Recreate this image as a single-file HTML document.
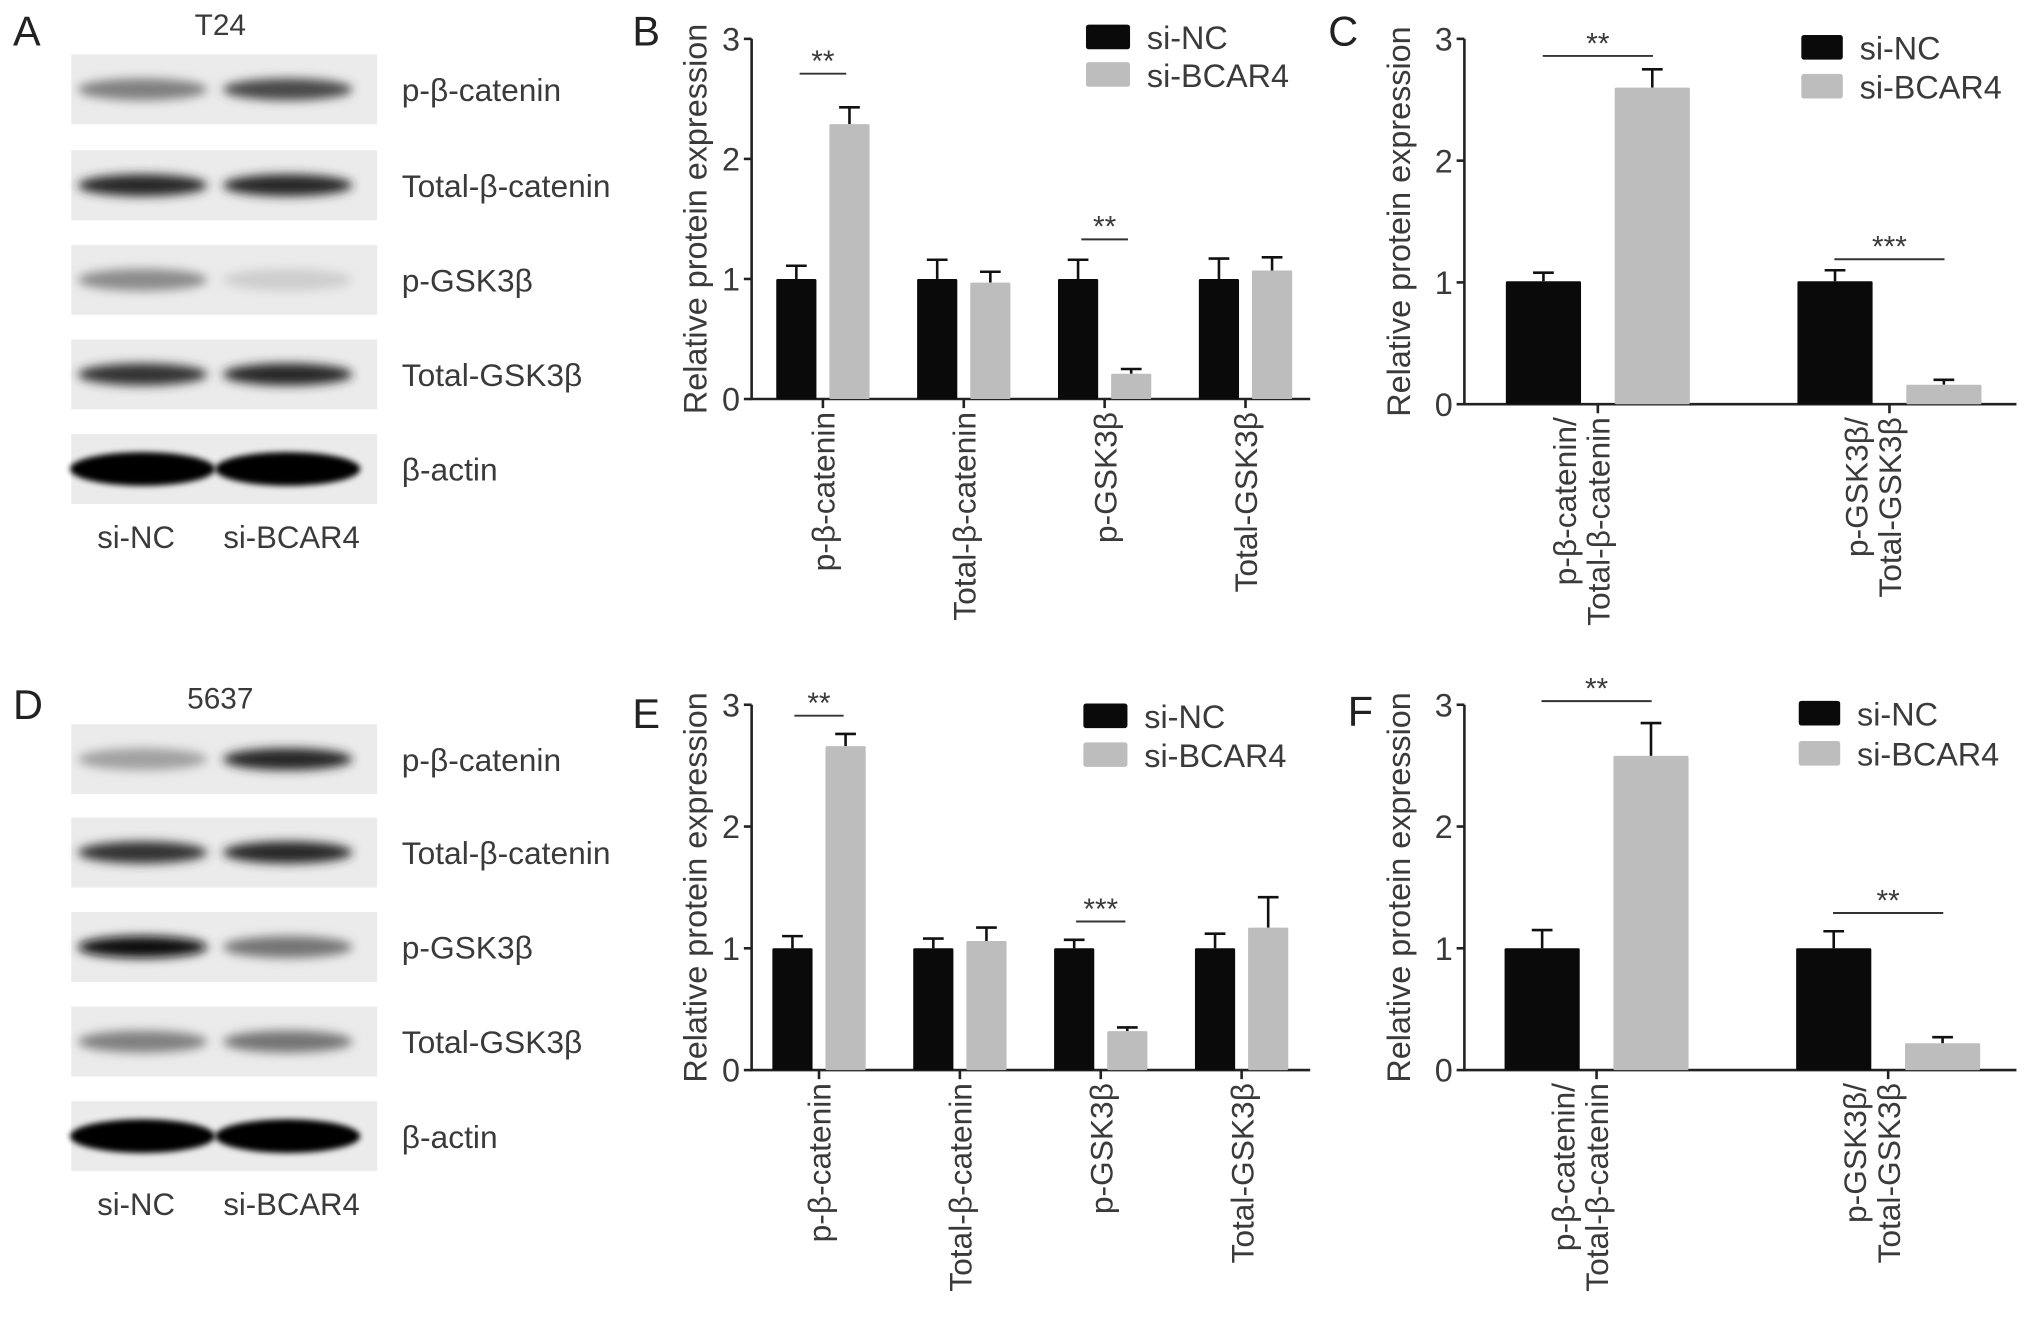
<!DOCTYPE html>
<html><head><meta charset="utf-8"><style>
html,body{margin:0;padding:0;background:#fff;}
svg{display:block;font-family:"Liberation Sans",Arial,sans-serif;}
</style></head><body>
<svg id="fig" width="2032" height="1324" viewBox="0 0 1568 1022" preserveAspectRatio="none" xmlns="http://www.w3.org/2000/svg">
<defs>
<filter id="blur" x="-20%" y="-50%" width="140%" height="200%"><feGaussianBlur stdDeviation="4"/></filter>
<filter id="blur2" x="-20%" y="-50%" width="140%" height="200%"><feGaussianBlur stdDeviation="2.2"/></filter>
</defs>
<g id="blots"></g>
<g id="charts"></g>
</svg>
<script>
// ---- chart data ----
const catsB = ["p-β-catenin","Total-β-catenin","p-GSK3β","Total-GSK3β"];
const ncB = [1,1,1,1];
const ncErrB = [0.11,0.16,0.16,0.17];
const bcB = [2.29,0.97,0.21,1.07];
const bcErrB = [0.14,0.09,0.04,0.11];
const catsC = [["p-β-catenin/","Total-β-catenin"],["p-GSK3β/","Total-GSK3β"]];
const ncC = [1.01,1.01];
const ncErrC = [0.07,0.09];
const bcC = [2.6,0.16];
const bcErrC = [0.15,0.04];
const ncE = [1,1,1,1];
const ncErrE = [0.1,0.08,0.07,0.12];
const bcE = [2.66,1.06,0.32,1.17];
const bcErrE = [0.1,0.11,0.03,0.25];
const ncF = [1,1];
const ncErrF = [0.15,0.14];
const bcF = [2.58,0.22];
const bcErrF = [0.27,0.05];
const yTicks = ["0","1","2","3"];
const sigB = [[0,2.71,"**"],[2,1.33,"**"]];
const sigC = [[0,2.86,"**"],[1,1.19,"***"]];
const sigE = [[0,2.91,"**"],[2,1.22,"***"]];
const sigF = [[0,3.03,"**"],[1,1.29,"**"]];

const NS="http://www.w3.org/2000/svg";
const TXT='#3a3a3a';
function mk(tag, attrs, parent, txt){
  const e=document.createElementNS(NS,tag);
  for(const k in attrs) e.setAttribute(k,attrs[k]);
  if(txt!==undefined) e.textContent=txt;
  parent.appendChild(e); return e;
}
const charts=document.getElementById('charts');
const blots=document.getElementById('blots');

function panel(cfg){
  const g=mk('g',{},charts);
  
  
  const y=v=>cfg.y0-(cfg.y0-cfg.y3)*v/3;
  const cx=i=>cfg.c0+i*cfg.step;
  const ya=mk('line',{x1:cfg.ax,y1:cfg.y3,x2:cfg.ax,y2:cfg.y0,stroke:'#222','stroke-width':2},g);
  
  
  const xa=mk('line',{x1:cfg.ax-1,y1:cfg.y0,x2:cfg.axEnd,y2:cfg.y0,stroke:'#222','stroke-width':2},g);
  
  
  yTicks.forEach((t,i)=>{
    mk('line',{x1:cfg.ax-6,y1:y(+t),x2:cfg.ax,y2:y(+t),stroke:'#222','stroke-width':2},g);
    const tl=mk('text',{x:cfg.ax-9,y:y(+t)+9,'text-anchor':'end','font-size':25,fill:TXT},g,t);
    
    
  });
  const ym=(cfg.y0+cfg.y3)/2;
  const yl=mk('text',{x:cfg.ylx,y:ym,'text-anchor':'middle','font-size':25,fill:TXT,transform:`rotate(-90 ${cfg.ylx} ${ym})`},g,'Relative protein expression');
  
  
  cfg.cats.forEach((c,i)=>{
    const x=cx(i);
    mk('line',{x1:x,y1:cfg.y0,x2:x,y2:cfg.y0+7,stroke:'#222','stroke-width':2},g);
    const series=[[cfg.nc,cfg.ncErr,'#0a0a0a',x-cfg.gap/2-cfg.bw],[cfg.bc,cfg.bcErr,'#bdbdbd',x+cfg.gap/2]];
    series.forEach(([vals,errs,col,bx],s)=>{
      const top=y(vals[i]), et=y(vals[i]+errs[i]), mx=bx+cfg.bw/2;
      mk('line',{x1:mx,y1:top,x2:mx,y2:et,stroke:'#111','stroke-width':2},g);
      mk('line',{x1:mx-8,y1:et,x2:mx+8,y2:et,stroke:'#111','stroke-width':2},g);
      const b=mk('rect',{x:bx,y:top,width:cfg.bw,height:cfg.y0-top,fill:col,rx:1},g);
      
      
    });
    const lines=Array.isArray(c)?c:[c];
    lines.forEach((ln,k)=>{
      const lx=x+9-(lines.length-1-k)*26;
      const t=mk('text',{x:lx,y:cfg.y0+10,'text-anchor':'end','font-size':24.5,fill:TXT,transform:`rotate(-90 ${lx} ${cfg.y0+10})`},g,ln);
      
      
    });
  });
  cfg.sig.forEach(([i,v,s])=>{
    const x=cx(i), yy=y(v);
    mk('line',{x1:x-cfg.sw/2,y1:yy,x2:x+cfg.sw/2,y2:yy,stroke:'#333','stroke-width':1.5},g);
    const st=mk('text',{x:x,y:yy-2,'text-anchor':'middle','font-size':23,fill:TXT},g,s);
    
    
  });
  const L=cfg.leg;
  [['si-NC','#0a0a0a',0],['si-BCAR4','#bdbdbd',1]].forEach(([n,c,k])=>{
    const ry=L.y+k*L.dy;
    const r=mk('rect',{x:L.x,y:ry,width:L.w,height:19,fill:c,rx:2},g);
    
    
    const t=mk('text',{x:L.x+L.w+13,y:ry+19,'font-size':25,fill:TXT},g,n);
    
    
  });
  const pl=mk('text',{x:cfg.lx,y:cfg.ly,'font-size':32,fill:'#222'},g,cfg.letter);
  
  
}

panel({name:'chart-b',letter:'B',lx:488,ly:35,ax:580,axEnd:1011,y0:308,y3:30,c0:635,step:108.7,bw:31,gap:10,sw:36,ylx:545,
  cats:catsB,nc:ncB,ncErr:ncErrB,bc:bcB,bcErr:bcErrB,sig:sigB,leg:{x:838,y:19,dy:29,w:34}});
panel({name:'chart-c',letter:'C',lx:1025,ly:35,ax:1130,axEnd:1556,y0:312,y3:30,c0:1233,step:225,bw:58,gap:26,sw:85,ylx:1088,
  cats:catsC,nc:ncC,ncErr:ncErrC,bc:bcC,bcErr:bcErrC,sig:sigC,leg:{x:1390,y:27,dy:30,w:32}});
panel({name:'chart-e',letter:'E',lx:488,ly:562,ax:580,axEnd:1011,y0:826,y3:544,c0:632,step:108.7,bw:31,gap:10,sw:38,ylx:545,
  cats:catsB,nc:ncE,ncErr:ncErrE,bc:bcE,bcErr:bcErrE,sig:sigE,leg:{x:836,y:543,dy:30,w:34}});
panel({name:'chart-f',letter:'F',lx:1040,ly:560,ax:1130,axEnd:1556,y0:826,y3:544,c0:1232,step:225,bw:58,gap:26,sw:85,ylx:1088,
  cats:catsC,nc:ncF,ncErr:ncErrF,bc:bcF,bcErr:bcErrF,sig:sigF,leg:{x:1388,y:541,dy:31,w:32}});

// ---- blots ----
const blotNames=["p-β-catenin","Total-β-catenin","p-GSK3β","Total-GSK3β","β-actin"];
const blotA=[[0.45,0.7],[0.85,0.85],[0.4,0.1],[0.8,0.85],[1,1]];
const blotD=[[0.3,0.85],[0.8,0.85],[0.95,0.5],[0.45,0.5],[1,1]];
function blotPanel(name,letter,title,y0,ys,inten){
  const g=mk('g',{},blots);
  
  
  const l=mk('text',{x:10,y:y0+35,'font-size':32,fill:'#222'},g,letter);
  
  
  const t=mk('text',{x:170,y:y0+27,'text-anchor':'middle','font-size':23,fill:TXT},g,title);
  
  
  ys.forEach((sy,i)=>{
    const h=54;
    const s=mk('rect',{x:55,y:sy,width:236,height:h,fill:'#ebebeb'},g);
    
    
    const bh=i===4?26:17;
    [110,222].forEach((bx,k)=>{
      const v=inten[i][k];
      const c=Math.round(228-223*v);
      const e=mk('ellipse',{cx:bx,cy:sy+h/2,rx:i===4?56:50,ry:bh/2,fill:`rgb(${c},${c},${c})`,filter:i===4?'url(#blur2)':'url(#blur)'},g);
      
      
    });
    const bl=mk('text',{x:310,y:sy+h/2+9,'font-size':24.5,fill:TXT},g,blotNames[i]);
    
    
  });
  const last=ys[ys.length-1]+54;
  const a=mk('text',{x:105,y:last+34,'text-anchor':'middle','font-size':24,fill:TXT},g,'si-NC');
  
  
  const b=mk('text',{x:225,y:last+34,'text-anchor':'middle','font-size':24,fill:TXT},g,'si-BCAR4');
  
  
}
blotPanel('blot-a','A','T24',0,[42,116,189,262,335],blotA);
blotPanel('blot-d','D','5637',520,[559,631,704,777,850],blotD);
</script>
</body></html>
